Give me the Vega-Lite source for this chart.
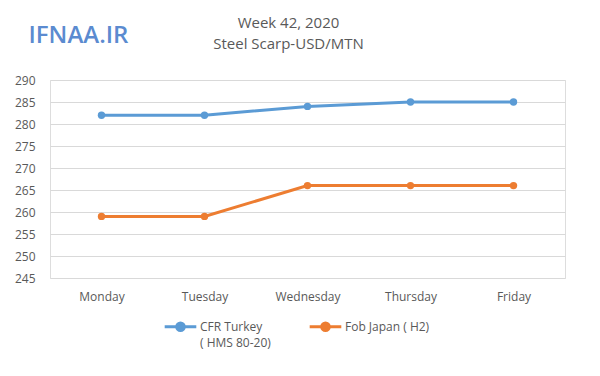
{
  "$schema": "https://vega.github.io/schema/vega-lite/v6.json",
  "width": 515,
  "height": 198,
  "autosize": {"type": "none"},
  "padding": {"left": 50, "top": 80, "right": 35, "bottom": 98},
  "background": "white",
  "title": {
    "text": "Week 42, 2020",
    "subtitle": "Steel Scarp-USD/MTN",
    "anchor": "middle",
    "frame": "group",
    "dx": -19,
    "offset": -29,
    "font": "Open Sans",
    "fontSize": 15,
    "fontWeight": "normal",
    "color": "#595959",
    "subtitleFont": "Open Sans",
    "subtitleFontSize": 15,
    "subtitleColor": "#595959",
    "subtitlePadding": 6
  },
  "data": {
    "values": [
      {"day": "Monday", "series": "CFR Turkey ( HMS 80-20)", "price": 282},
      {"day": "Tuesday", "series": "CFR Turkey ( HMS 80-20)", "price": 282},
      {"day": "Wednesday", "series": "CFR Turkey ( HMS 80-20)", "price": 284},
      {"day": "Thursday", "series": "CFR Turkey ( HMS 80-20)", "price": 285},
      {"day": "Friday", "series": "CFR Turkey ( HMS 80-20)", "price": 285},
      {"day": "Monday", "series": "Fob Japan ( H2)", "price": 259},
      {"day": "Tuesday", "series": "Fob Japan ( H2)", "price": 259},
      {"day": "Wednesday", "series": "Fob Japan ( H2)", "price": 266},
      {"day": "Thursday", "series": "Fob Japan ( H2)", "price": 266},
      {"day": "Friday", "series": "Fob Japan ( H2)", "price": 266}
    ]
  },
  "encoding": {
    "x": {
      "field": "day",
      "type": "ordinal",
      "sort": ["Monday", "Tuesday", "Wednesday", "Thursday", "Friday"],
      "scale": {"type": "point", "padding": 0.5},
      "axis": {
        "title": null,
        "labelAngle": 0,
        "ticks": false,
        "domain": false,
        "grid": false,
        "labelPadding": 13,
        "labelFont": "Open Sans",
        "labelFontSize": 12,
        "labelColor": "#595959"
      }
    },
    "y": {
      "field": "price",
      "type": "quantitative",
      "scale": {"domain": [245, 290], "zero": false, "nice": false},
      "axis": {
        "values": [245, 250, 255, 260, 265, 270, 275, 280, 285, 290],
        "title": "IFNAA.IR",
        "titleAngle": 0,
        "titleAlign": "left",
        "titleBaseline": "middle",
        "titleX": -22,
        "titleY": -45,
        "titleFont": "Open Sans",
        "titleFontSize": 24,
        "titleFontWeight": 600,
        "titleColor": "#5B8BD0",
        "ticks": false,
        "domain": false,
        "grid": true,
        "gridColor": "#d9d9d9",
        "gridWidth": 1,
        "labelPadding": 15,
        "labelFont": "Open Sans",
        "labelFontSize": 12,
        "labelColor": "#595959"
      }
    },
    "color": {
      "field": "series",
      "type": "nominal",
      "scale": {"domain": ["CFR Turkey ( HMS 80-20)", "Fob Japan ( H2)"], "range": ["#5B9BD5", "#ED7D31"]},
      "legend": {
        "title": null,
        "orient": "none",
        "direction": "horizontal",
        "legendX": 113,
        "legendY": 229,
        "symbolType": "M-1,0H1M-0.24,0A0.24,0.24 0 1,1 0.24,0A0.24,0.24 0 1,1 -0.24,0",
        "symbolSize": 1000,
        "symbolStrokeWidth": 3,
        "labelFont": "Open Sans",
        "labelFontSize": 12,
        "labelColor": "#595959",
        "labelBaseline": "alphabetic",
        "labelOffset": 2,
        "labelExpr": "datum.label == 'CFR Turkey ( HMS 80-20)' ? ['CFR Turkey', ' ( HMS 80-20)'] : [datum.label, ' ']",
        "columnPadding": 32,
        "encode": {"labels": {"update": {"dy": {"value": 4}, "lineHeight": {"value": 16}}}}
      }
    }
  },
  "layer": [
    {"mark": {"type": "line", "strokeWidth": 3}},
    {"mark": {"type": "point", "filled": true, "size": 55, "opacity": 1}}
  ]
}
